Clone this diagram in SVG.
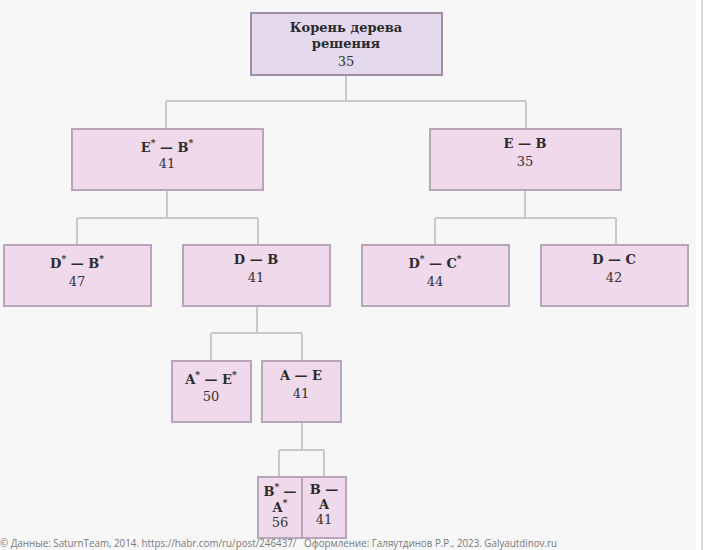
<svg xmlns="http://www.w3.org/2000/svg" width="705" height="550" viewBox="0 0 705 550">
<style>
.bg{fill:#f7f7f7}
.n{fill:#efd9eb;stroke:#b7a5ba;stroke-width:2}
.r{fill:#e3d8ec;stroke:#9b8fa4;stroke-width:2}
.c{fill:none;stroke:#c9c9c9;stroke-width:2}
.t{font-family:"DejaVu Serif","Liberation Serif",serif;font-weight:bold;font-size:13px;fill:#2b2b2b;text-anchor:middle}
.v{font-family:"DejaVu Serif","Liberation Serif",serif;font-size:13px;fill:#333;text-anchor:middle}
.s{font-size:9px}
.f{font-family:"Open Sans","Liberation Sans",sans-serif;font-size:10px;fill:#777}
</style>
<rect x="0" y="0" width="705" height="550" fill="#ffffff"/>
<rect class="bg" x="0" y="0" width="696" height="550"/>
<rect x="701" y="0" width="2" height="550" fill="#d9d9d9"/>
<g id="connectors">
<path class="c" d="M346 75V101M166 101H526M166 101V129M526 101V129"/>
<path class="c" d="M167 190V218M77 218H258M77 218V245M258 218V245"/>
<path class="c" d="M525 190V218M435 218H616M435 218V245M616 218V245"/>
<path class="c" d="M257 306V333M211 333H302M211 333V361M302 333V361"/>
<path class="c" d="M302 422V450M279 450H324M279 450V477M324 450V477"/>
</g>
<g id="root">
<rect class="r" x="251" y="13" width="191" height="62"/>
<text class="t" x="346" y="32">Корень дерева</text>
<text class="t" x="346" y="48">решения</text>
<text class="v" x="346" y="66">35</text>
</g>
<g id="eb_star">
<rect class="n" x="72" y="129" width="191" height="61"/>
<text class="t" x="167" y="152">E<tspan class="s" dy="-6">*</tspan><tspan dy="6"> — B</tspan><tspan class="s" dy="-6">*</tspan></text>
<text class="v" x="167" y="168">41</text>
</g>
<g id="eb">
<rect class="n" x="430" y="129" width="191" height="61"/>
<text class="t" x="525" y="148">E — B</text>
<text class="v" x="525" y="166">35</text>
</g>
<g id="db_star">
<rect class="n" x="4" y="245" width="147" height="61"/>
<text class="t" x="77" y="268">D<tspan class="s" dy="-6">*</tspan><tspan dy="6"> — B</tspan><tspan class="s" dy="-6">*</tspan></text>
<text class="v" x="77" y="286">47</text>
</g>
<g id="db">
<rect class="n" x="183" y="245" width="147" height="61"/>
<text class="t" x="256" y="264">D — B</text>
<text class="v" x="256" y="282">41</text>
</g>
<g id="dc_star">
<rect class="n" x="362" y="245" width="147" height="61"/>
<text class="t" x="435" y="268">D<tspan class="s" dy="-6">*</tspan><tspan dy="6"> — C</tspan><tspan class="s" dy="-6">*</tspan></text>
<text class="v" x="435" y="286">44</text>
</g>
<g id="dc">
<rect class="n" x="541" y="245" width="147" height="61"/>
<text class="t" x="614" y="264">D — C</text>
<text class="v" x="614" y="282">42</text>
</g>
<g id="ae_star">
<rect class="n" x="172" y="361" width="79" height="61"/>
<text class="t" x="211" y="384">A<tspan class="s" dy="-6">*</tspan><tspan dy="6"> — E</tspan><tspan class="s" dy="-6">*</tspan></text>
<text class="v" x="211" y="401">50</text>
</g>
<g id="ae">
<rect class="n" x="262" y="361" width="79" height="61"/>
<text class="t" x="301" y="380">A — E</text>
<text class="v" x="301" y="398">41</text>
</g>
<g id="ba_star">
<rect class="n" x="258" y="477" width="44" height="61"/>
<text class="t" x="280" y="496">B<tspan class="s" dy="-6">*</tspan><tspan dy="6"> —</tspan></text>
<text class="t" x="280" y="512">A<tspan class="s" dy="-6">*</tspan></text>
<text class="v" x="280" y="527">56</text>
</g>
<g id="ba">
<rect class="n" x="302" y="477" width="44" height="61"/>
<text class="t" x="324" y="494">B —</text>
<text class="t" x="324" y="509">A</text>
<text class="v" x="324" y="524">41</text>
</g>
<text class="f" x="0" y="547" xml:space="preserve" textLength="557" lengthAdjust="spacingAndGlyphs">© Данные: SaturnTeam, 2014. https://habr.com/ru/post/246437/   Оформление: Галяутдинов Р.Р., 2023. Galyautdinov.ru</text>
</svg>
